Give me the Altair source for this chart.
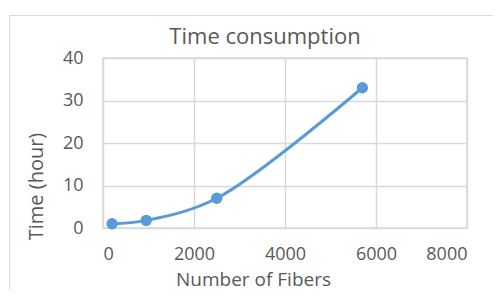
import altair as alt
import pandas as pd

fibers = [200, 950, 2500, 5700]
hours = [1.0, 1.8, 7.0, 33.0]

df = pd.DataFrame({"fibers": fibers, "hours": hours})

FONT = "Open Sans"
TXT = "#595959"
GRID = "#D9D9D9"
BLUE = "#5B9BD5"

x = alt.X("fibers:Q",
          scale=alt.Scale(domain=[0, 8000], nice=False),
          axis=alt.Axis(values=[0, 2000, 4000, 6000, 8000], format="d", title="Number of Fibers",
                        titleX=150, titleY=57, titleBaseline="alphabetic",
                        titleAlign="center", titleFontSize=19))
y = alt.Y("hours:Q",
          scale=alt.Scale(domain=[0, 40], nice=False),
          axis=alt.Axis(values=[0, 10, 20, 30, 40], format="d", title="Time (hour)",
                        titleX=-61, titleY=128, titleBaseline="alphabetic",
                        titleAlign="center", titleAngle=270))

base = alt.Chart(df)
line = base.mark_line(interpolate="catmull-rom", color=BLUE, strokeWidth=3).encode(x=x, y=y)
pts = base.mark_circle(color=BLUE, size=130, opacity=1).encode(x=x, y=y)

frame = alt.Chart(pd.DataFrame({"a": [0]})).mark_rect(
    fill=None, stroke=GRID, strokeWidth=1
).encode(x=alt.value(-93.5), x2=alt.value(520), y=alt.value(-42.5), y2=alt.value(320))

chart = alt.layer(frame, line, pts).properties(
    width=364, height=170,
    autosize=alt.AutoSizeParams(type="none"),
    padding={"left": 95, "top": 50, "right": 26, "bottom": 62},
    title=alt.TitleParams("Time consumption", font=FONT, fontSize=22, color=TXT,
                          fontWeight="normal", dx=-20, dy=55, baseline="alphabetic"),
).configure_view(stroke=GRID, strokeWidth=1.5).configure_axis(
    labelFont=FONT, labelFontSize=18, labelColor=TXT,
    titleFont=FONT, titleFontSize=20, titleColor=TXT, titleFontWeight="normal",
    gridColor=GRID, gridWidth=1.5, domain=False, ticks=False,
).configure_axisX(labelPadding=17).configure_axisY(labelPadding=20)

chart.save("out.html", embed_options={"renderer": "svg", "actions": False})
